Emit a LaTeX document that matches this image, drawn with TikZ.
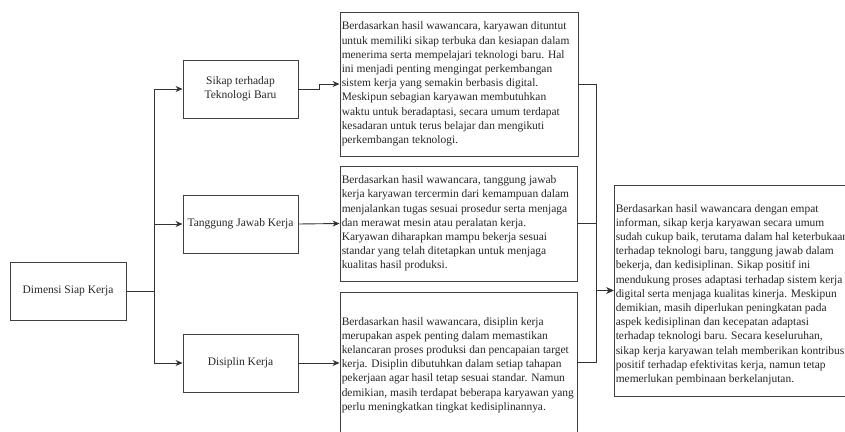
\documentclass[tikz,border=0pt]{standalone}
\usepackage{fontspec}
\setmainfont{Liberation Serif}
\usetikzlibrary{arrows.meta}
\tikzset{
  x=1pt, y=-1pt,
  box/.style={draw=black!75, line width=0.9pt, rectangle, inner sep=0pt},
  lbl/.style={font=\fontsize{11.5}{14}\selectfont, text=black!85, align=center},
  para/.style={font=\fontsize{11.45}{14.2}\selectfont, text=black!85, align=left, inner sep=0pt, anchor=west},
  conn/.style={draw=black!80, line width=0.9pt},
  arr/.style={conn, -{Stealth[length=7pt,width=6pt]}},
}
\begin{document}
\begin{tikzpicture}
\useasboundingbox (0,0) rectangle (845,431);
% left column
\node[box, minimum width=116, minimum height=58, lbl] (dim) at (68,291) {Dimensi Siap Kerja};
\node[box, minimum width=115, minimum height=58, lbl] (sik) at (240.5,89) {Sikap terhadap\\Teknologi Baru};
\node[box, minimum width=115, minimum height=58, lbl] (tan) at (240.5,224) {Tanggung Jawab Kerja};
\node[box, minimum width=115, minimum height=58, lbl] (dis) at (240.5,363) {Disiplin Kerja};
% text boxes
\node[box, minimum width=238, minimum height=144] (t1) at (459,84) {};
\node[para] (p1) at ([xshift=2pt]t1.west) {Berdasarkan hasil wawancara, karyawan dituntut\\
untuk memiliki sikap terbuka dan kesiapan dalam\\
menerima serta mempelajari teknologi baru. Hal\\
ini menjadi penting mengingat perkembangan\\
sistem kerja yang semakin berbasis digital.\\
Meskipun sebagian karyawan membutuhkan\\
waktu untuk beradaptasi, secara umum terdapat\\
kesadaran untuk terus belajar dan mengikuti\\
perkembangan teknologi.};
\node[box, minimum width=237, minimum height=115] (t2) at (458.5,223.5) {};
\node[para] (p2) at ([xshift=2pt]t2.west) {Berdasarkan hasil wawancara, tanggung jawab\\
kerja karyawan tercermin dari kemampuan dalam\\
menjalankan tugas sesuai prosedur serta menjaga\\
dan merawat mesin atau peralatan kerja.\\
Karyawan diharapkan mampu bekerja sesuai\\
standar yang telah ditetapkan untuk menjaga\\
kualitas hasil produksi.};
\node[box, minimum width=237, minimum height=140] (t3) at (458.5,362) {};
\node[para] (p3) at ([xshift=2pt,yshift=-3pt]t3.west) {Berdasarkan hasil wawancara, disiplin kerja\\
merupakan aspek penting dalam memastikan\\
kelancaran proses produksi dan pencapaian target\\
kerja. Disiplin dibutuhkan dalam setiap tahapan\\
pekerjaan agar hasil tetap sesuai standar. Namun\\
demikian, masih terdapat beberapa karyawan yang\\
perlu meningkatkan tingkat kedisiplinannya.};
\node[box, minimum width=250, minimum height=211] (rt) at (739,290.5) {};
\node[para] (pr) at ([xshift=2pt,yshift=-4pt]rt.west) {Berdasarkan hasil wawancara dengan empat\\
informan, sikap kerja karyawan secara umum\\
sudah cukup baik, terutama dalam hal keterbukaan\\
terhadap teknologi baru, tanggung jawab dalam\\
bekerja, dan kedisiplinan. Sikap positif ini\\
mendukung proses adaptasi terhadap sistem kerja\\
digital serta menjaga kualitas kinerja. Meskipun\\
demikian, masih diperlukan peningkatan pada\\
aspek kedisiplinan dan kecepatan adaptasi\\
terhadap teknologi baru. Secara keseluruhan,\\
sikap kerja karyawan telah memberikan kontribusi\\
positif terhadap efektivitas kerja, namun tetap\\
memerlukan pembinaan berkelanjutan.};
% connectors
\draw[arr] (dim.east) -- ++(28,0) |- (sik.west);
\draw[arr] (dim.east) -- ++(28,0) |- (tan.west);
\draw[arr] (dim.east) -- ++(28,0) |- (dis.west);
\draw[arr] (sik.east) -- ++(21,0) |- (t1.west);
\draw[arr] (tan.east) -- (t2.west);
\draw[arr] (dis.east) -- (t3.west |- dis.east);
\draw[arr] (t1.east) -- ++(18,0) |- (rt.west);
\draw[arr] (t2.east) -- ++(18.5,0) |- (rt.west);
\draw[arr] (t3.east) -- ++(18.5,0) |- (rt.west);
\end{tikzpicture}
\end{document}
